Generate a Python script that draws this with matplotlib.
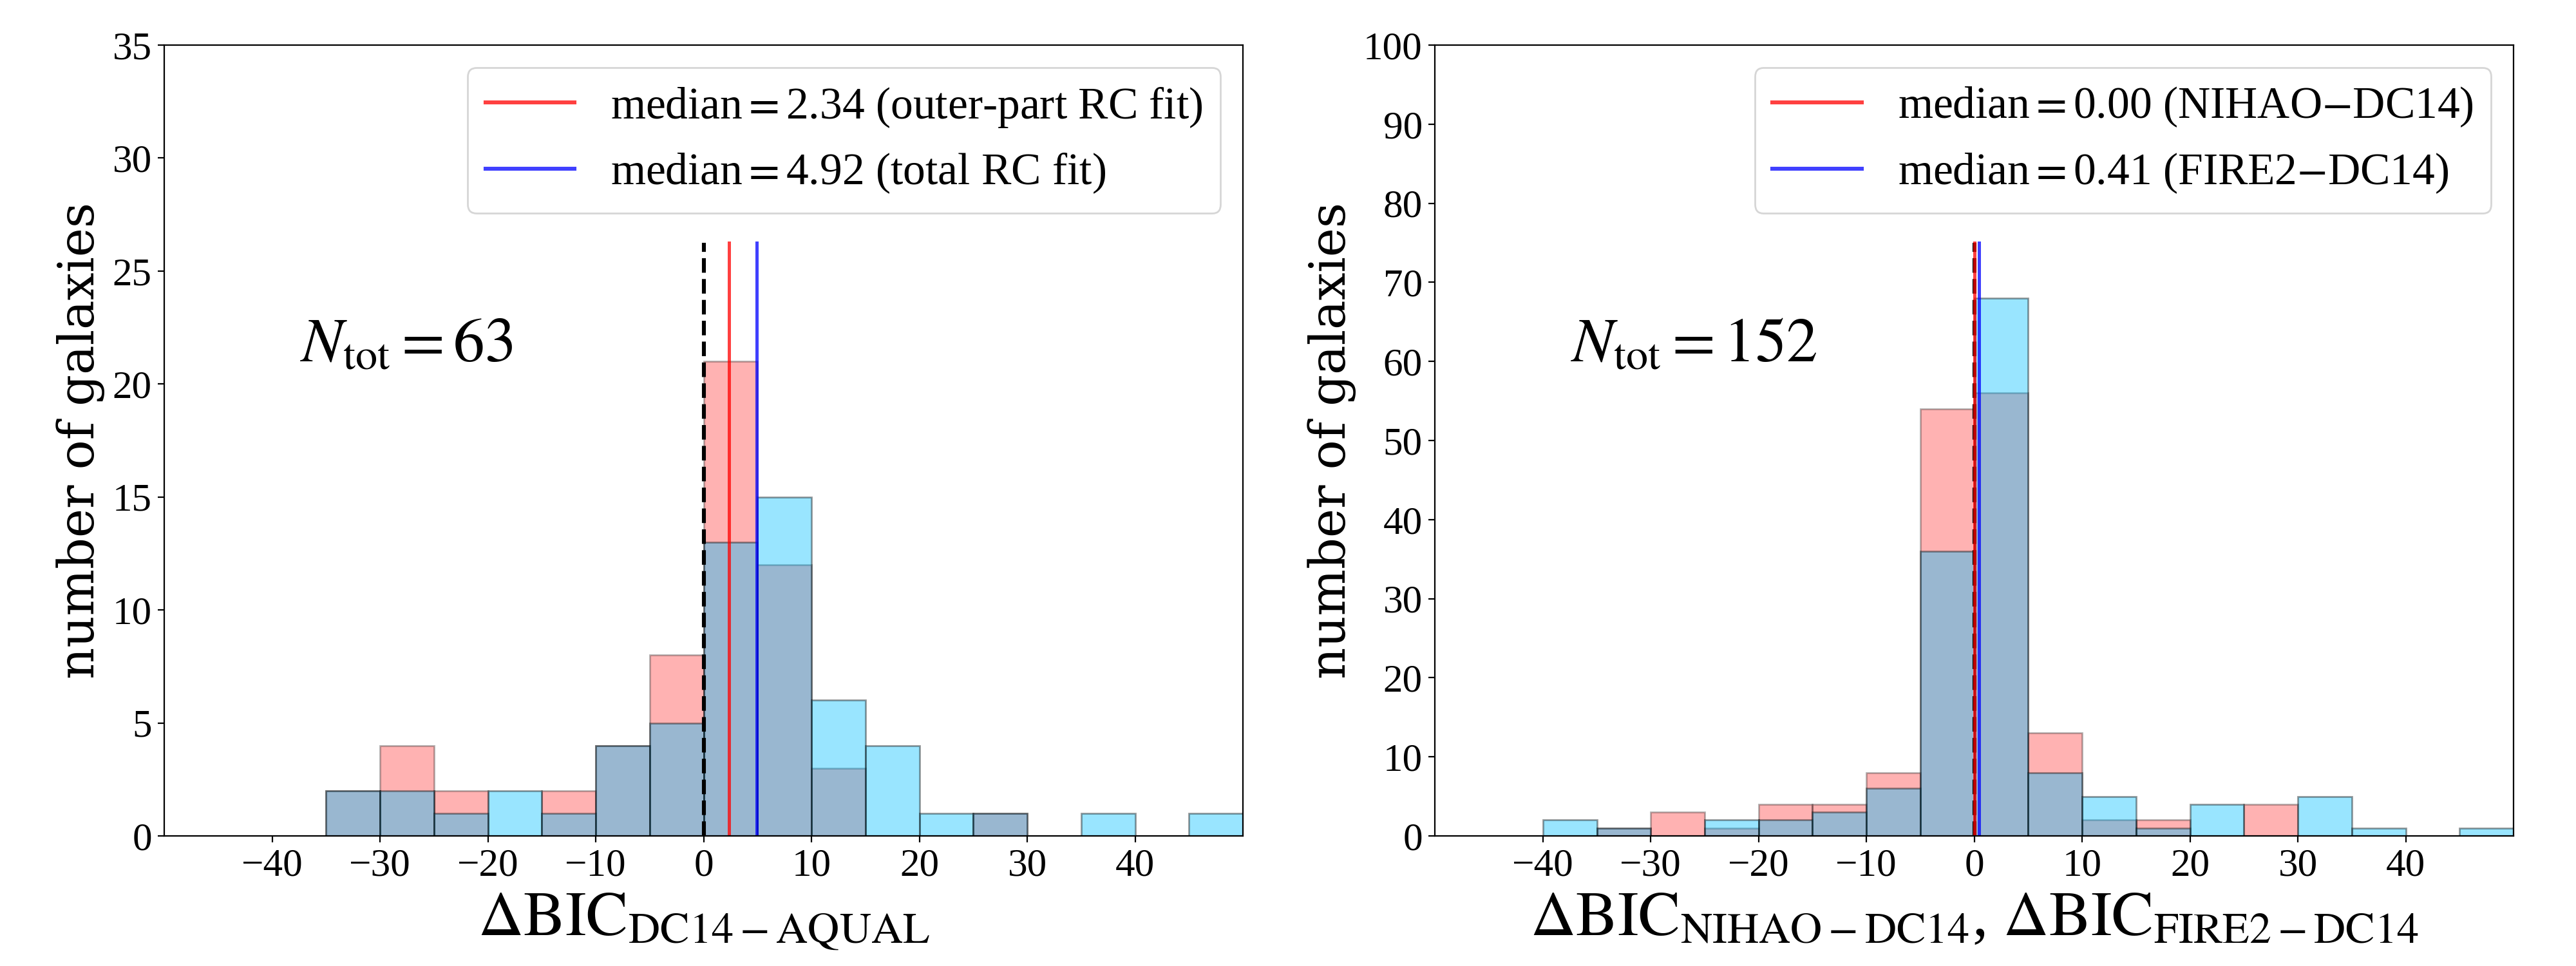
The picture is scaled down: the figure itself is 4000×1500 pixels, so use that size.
import numpy as np
import matplotlib
matplotlib.use("Agg")
import matplotlib.pyplot as plt

plt.rcParams['font.family'] = 'serif'
plt.rcParams['font.serif'] = ['Liberation Serif', 'DejaVu Serif']
plt.rcParams['mathtext.fontset'] = 'stix'

# bin edges shared by both panels (width 5)
bin_edges = np.arange(-50, 55, 5)
bin_left = bin_edges[:-1]

# left panel: DC14 - AQUAL, counts per bin from -50 to 50
counts_outer = [0, 0, 0, 2, 4, 2, 0, 2, 4, 8, 21, 12, 3, 0, 0, 1, 0, 0, 0, 0]
counts_total = [0, 0, 0, 2, 2, 1, 2, 1, 4, 5, 13, 15, 6, 4, 1, 1, 0, 1, 0, 1]
median_outer = 2.34
median_total = 4.92
n_left = 63

# right panel: NIHAO - DC14 and FIRE2 - DC14
counts_nihao = [0, 0, 0, 1, 3, 1, 4, 4, 8, 54, 56, 13, 2, 2, 0, 4, 0, 0, 0, 0]
counts_fire2 = [0, 0, 2, 1, 0, 2, 2, 3, 6, 36, 68, 8, 5, 1, 4, 0, 5, 1, 0, 1]
median_nihao = 0.00
median_fire2 = 0.41
n_right = 152

legend_left = [r'median$=$2.34 (outer-part RC fit)', r'median$=$4.92 (total RC fit)']
legend_right = [r'median$=$0.00 (NIHAO$-$DC14)', r'median$=$0.41 (FIRE2$-$DC14)']
xlabels = [r'$\Delta{\rm BIC}_{\rm DC14-AQUAL}$',
           r'$\Delta{\rm BIC}_{\rm NIHAO-DC14}$, $\Delta{\rm BIC}_{\rm FIRE2-DC14}$']


def draw_panel(ax, c_red, c_blue, med_red, med_blue, labels, ntot, ymax, ystep, xlabel):
    ax.hist(bin_left, bins=bin_edges, weights=c_red, color='red', alpha=0.3,
            edgecolor='black', linewidth=1.0)
    ax.hist(bin_left, bins=bin_edges, weights=c_blue, color='deepskyblue', alpha=0.4,
            edgecolor='black', linewidth=1.0)
    ax.axvline(0, ymin=0, ymax=0.75, color='black', ls='--', lw=2.2)
    ax.axvline(med_red, ymin=0, ymax=0.75, color='red', alpha=0.75, lw=1.8, label=labels[0])
    ax.axvline(med_blue, ymin=0, ymax=0.75, color='blue', alpha=0.75, lw=1.8, label=labels[1])

    ax.set_xlim(-50, 50)
    ax.set_ylim(0, ymax)
    ax.set_xticks(np.arange(-40, 50, 10))
    ax.set_yticks(np.arange(0, ymax + 1, ystep))
    ax.tick_params(labelsize=22)

    ax.text(0.126, 0.6, r'$N_{\rm tot}=%d$' % ntot, transform=ax.transAxes,
            fontsize=35, va='baseline')
    ax.set_xlabel(xlabel, fontsize=35)
    ax.set_ylabel('number of galaxies', fontsize=27.5, family='DejaVu Serif')
    leg = ax.legend(loc='upper right', fontsize=25)
    for line in leg.get_lines():
        line.set_linewidth(2.2)


fig, (ax1, ax2) = plt.subplots(1, 2, figsize=(20, 7.5))
fig.subplots_adjust(left=0.0638, right=0.9758, bottom=0.1347, top=0.9533, wspace=0.178)

draw_panel(ax1, counts_outer, counts_total, median_outer, median_total,
           legend_left, n_left, 35, 5, xlabels[0])
draw_panel(ax2, counts_nihao, counts_fire2, median_nihao, median_fire2,
           legend_right, n_right, 100, 10, xlabels[1])

fig.savefig('out.png', dpi=200)
